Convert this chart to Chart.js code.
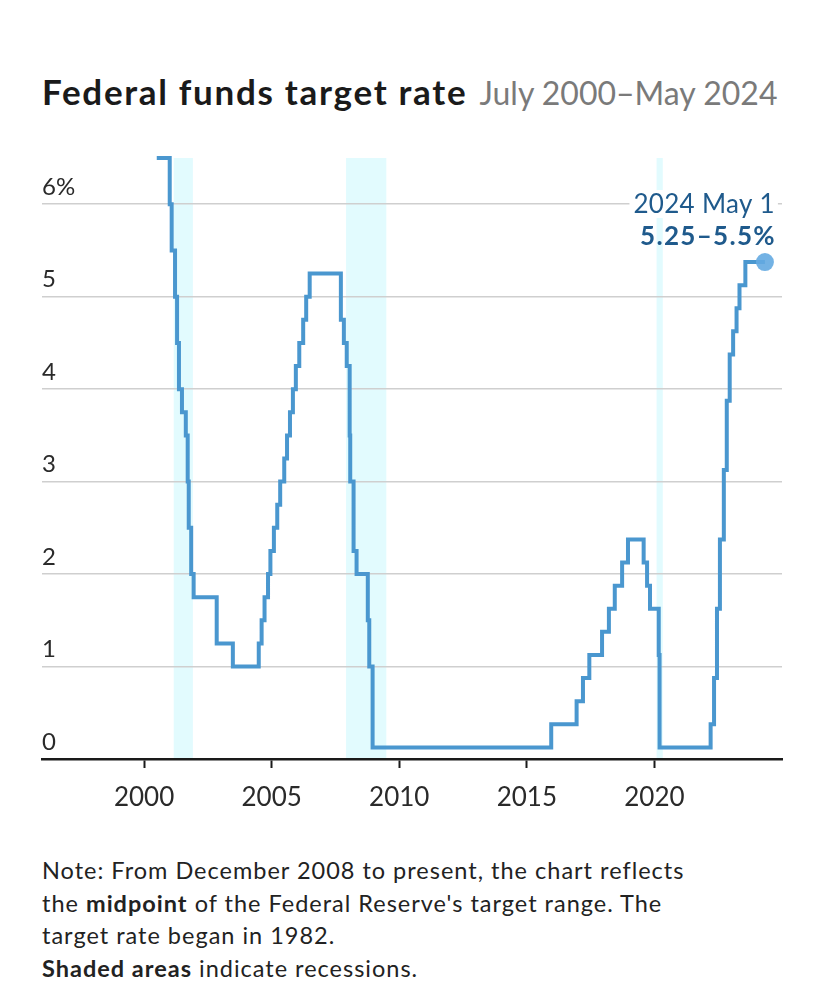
<!DOCTYPE html>
<html>
<head>
<meta charset="utf-8">
<script src="https://cdn.jsdelivr.net/npm/chart.js@4.4.1/dist/chart.umd.min.js"></script>
<style>
  html, body { margin: 0; padding: 0; background: #fff; }
  body { width: 828px; height: 990px; position: relative; font-family: Lato, sans-serif; color: #1e1e1e; }
  #titulo { position: absolute; left: 42px; top: 70px; white-space: nowrap; }
  #titulo b { font-size: 35px; font-weight: 700; color: #1a1a1a; letter-spacing: 1.7px; }
  #titulo span { font-size: 32px; color: #7a7a7a; font-weight: 400; margin-left: 8px; }
  #grafico { position: absolute; left: 0; top: 140px; width: 828px; height: 700px; }
  #nota { position: absolute; left: 42px; top: 854px; font-size: 23.5px; line-height: 32.7px; color: #222; letter-spacing: 1px; }
</style>
</head>
<body>
<div id="titulo"><b>Federal funds target rate</b> <span>July 2000–May 2024</span></div>
<div id="grafico"><canvas id="graficoLinha"></canvas></div>
<div id="nota">Note: From December 2008 to present, the chart reflects<br>the <b>midpoint</b> of the Federal Reserve's target range. The<br>target rate began in 1982.<br><b>Shaded areas</b> indicate recessions.</div>
<script>
// datas de mudança da meta e valor (%) a partir de cada data
const datas = [
  "2000-07-01", "2001-01-03", "2001-01-31", "2001-03-20", "2001-04-18", "2001-05-15",
  "2001-06-27", "2001-08-21", "2001-09-17", "2001-10-02", "2001-11-06", "2001-12-11",
  "2002-11-06", "2003-06-25", "2004-06-30", "2004-08-10", "2004-09-21", "2004-11-10",
  "2004-12-14", "2005-02-02", "2005-03-22", "2005-05-03", "2005-06-30", "2005-08-09",
  "2005-09-20", "2005-11-01", "2005-12-13", "2006-01-31", "2006-03-28", "2006-05-10",
  "2006-06-29", "2007-09-18", "2007-10-31", "2007-12-11", "2008-01-22", "2008-01-30",
  "2008-03-18", "2008-04-30", "2008-10-08", "2008-10-29", "2008-12-16", "2015-12-16",
  "2016-12-14", "2017-03-15", "2017-06-14", "2017-12-13", "2018-03-21", "2018-06-13",
  "2018-09-26", "2018-12-19", "2019-07-31", "2019-09-18", "2019-10-30", "2020-03-03",
  "2020-03-15", "2022-03-16", "2022-05-04", "2022-06-15", "2022-07-27", "2022-09-21",
  "2022-11-02", "2022-12-14", "2023-02-01", "2023-03-22", "2023-05-03", "2023-07-26",
  "2024-05-01"
];
const taxas = [
  6.5, 6.0, 5.5, 5.0, 4.5, 4.0,
  3.75, 3.5, 3.0, 2.5, 2.0, 1.75,
  1.25, 1.0, 1.25, 1.5, 1.75, 2.0,
  2.25, 2.5, 2.75, 3.0, 3.25, 3.5,
  3.75, 4.0, 4.25, 4.5, 4.75, 5.0,
  5.25, 4.75, 4.5, 4.25, 3.5, 3.0,
  2.25, 2.0, 1.5, 1.0, 0.125, 0.375,
  0.625, 0.875, 1.125, 1.375, 1.625, 1.875,
  2.125, 2.375, 2.125, 1.875, 1.625, 1.125,
  0.125, 0.375, 0.875, 1.625, 2.375, 3.125,
  3.875, 4.375, 4.625, 4.875, 5.125, 5.375,
  5.375
];
const recessaoInicio = ["2001-03-01", "2007-12-01", "2020-02-01"];
const recessaoFim = ["2001-11-30", "2009-06-30", "2020-04-30"];
const anosEixo = [2000, 2005, 2010, 2015, 2020];
const valoresEixoY = [0, 1, 2, 3, 4, 5, 6];
const rotuloData = "2024 May 1";
const rotuloValor = "5.25–5.5%";

const corLinha = "#4a97cf";
const corTexto = "#1f5a8c";

function anoDecimal(s) {
  const d = new Date(s + "T00:00:00Z");
  const ini = Date.UTC(d.getUTCFullYear(), 0, 1);
  const fim = Date.UTC(d.getUTCFullYear() + 1, 0, 1);
  return d.getUTCFullYear() + (d - ini) / (fim - ini);
}

const pontos = datas.map((d, i) => ({ x: anoDecimal(d), y: taxas[i] }));
const ultimo = pontos.length - 1;

const recessoes = {
  id: "recessoes",
  beforeDraw(chart) {
    const { ctx, chartArea, scales } = chart;
    ctx.save();
    ctx.fillStyle = "#e2fbfe";
    recessaoInicio.forEach((ini, i) => {
      const x1 = scales.x.getPixelForValue(anoDecimal(ini));
      const x2 = scales.x.getPixelForValue(anoDecimal(recessaoFim[i]));
      ctx.fillRect(x1, chartArea.top, x2 - x1, chartArea.bottom - chartArea.top);
    });
    ctx.restore();
  }
};

const rotuloFinal = {
  id: "rotuloFinal",
  afterDatasetsDraw(chart) {
    const { ctx } = chart;
    const p = chart.getDatasetMeta(0).data[ultimo];
    const xd = p.x + 10;
    ctx.save();
    ctx.textAlign = "right";
    ctx.textBaseline = "middle";
    ctx.font = "400 26px Lato";
    ctx.letterSpacing = "0.3px";
    const w = ctx.measureText(rotuloData).width;
    ctx.fillStyle = "#fff";
    ctx.fillRect(xd - w - 4, p.y - 72, w + 7, 28);
    ctx.fillStyle = corTexto;
    ctx.fillText(rotuloData, xd, p.y - 57);
    ctx.font = "700 26px Lato";
    ctx.letterSpacing = "1.3px";
    ctx.fillText(rotuloValor, xd + 1, p.y - 25);
    ctx.restore();
  }
};

let grafico = null;

function criarGrafico() {
  const ctx = document.getElementById("graficoLinha");
  if (grafico) grafico.destroy();

  grafico = new Chart(ctx, {
    type: "line",
    data: {
      datasets: [{
        data: pontos,
        stepped: "before",
        borderColor: corLinha,
        borderWidth: 4,
        borderJoinStyle: "miter",
        clip: false,
        pointRadius: c => c.dataIndex === ultimo ? 9 : 0,
        pointBackgroundColor: "rgba(100,170,225,0.9)",
        pointBorderWidth: 0,
        pointHoverRadius: c => c.dataIndex === ultimo ? 9 : 0
      }]
    },
    options: {
      responsive: true,
      maintainAspectRatio: false,
      animation: false,
      events: [],
      layout: { padding: { top: 18, left: 42, right: 46, bottom: 0 } },
      plugins: { legend: { display: false }, tooltip: { enabled: false } },
      scales: {
        x: {
          type: "linear",
          min: 1996,
          max: 2025,
          afterBuildTicks: s => { s.ticks = anosEixo.map(v => ({ value: v })); },
          afterFit: s => { s.height = 81; },
          border: { display: true, color: "#1a1a1a", width: 2.5 },
          grid: { drawOnChartArea: false, drawTicks: true, tickLength: 9, tickWidth: 2, tickColor: "#1a1a1a" },
          ticks: {
            padding: 14,
            color: "#2a2a2a",
            font: { family: "Lato", size: 26 },
            maxRotation: 0,
            callback: v => String(v)
          }
        },
        y: {
          min: 0,
          max: 6.5,
          afterBuildTicks: s => { s.ticks = valoresEixoY.map(v => ({ value: v })); },
          afterFit: s => { s.width = 0; },
          border: { display: false },
          grid: { color: "#cfcfcf", lineWidth: 1.5, drawTicks: false },
          ticks: {
            mirror: true,
            padding: 0,
            labelOffset: -17,
            color: "#2a2a2a",
            font: { family: "Lato", size: 24 },
            callback: v => v === 6 ? "6%" : String(v)
          }
        }
      }
    },
    plugins: [recessoes, rotuloFinal]
  });
}

document.addEventListener("DOMContentLoaded", criarGrafico);
</script>
</body>
</html>
